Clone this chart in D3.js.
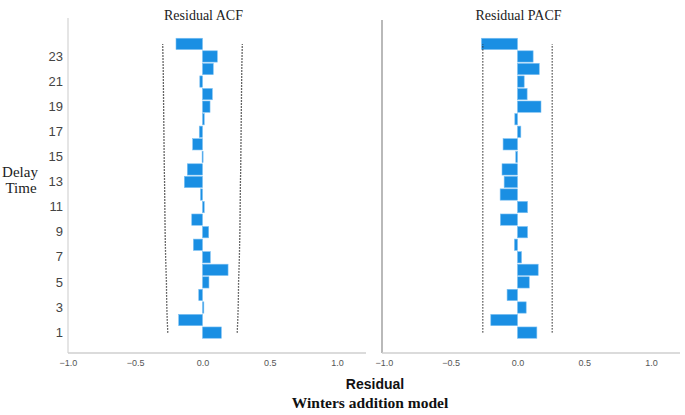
<!DOCTYPE html>
<html><head><meta charset="utf-8">
<script src="https://cdn.jsdelivr.net/npm/d3@7"></script>
<style>body{margin:0;background:#fff}svg{display:block}</style>
</head><body>
<svg id="c" width="685" height="415"></svg>
<script>
const lags = d3.range(1, 25);
const acf  = [0.14,-0.177,0.01,-0.028,0.048,0.19,0.058,-0.068,0.046,-0.08,0.013,-0.015,-0.135,-0.113,-0.003,-0.073,-0.024,0.013,0.056,0.073,-0.02,0.08,0.11,-0.197];
const pacf = [0.145,-0.2,0.065,-0.078,0.088,0.155,0.03,-0.023,0.075,-0.128,0.075,-0.13,-0.10,-0.116,-0.013,-0.108,0.025,-0.02,0.176,0.072,0.05,0.163,0.117,-0.27];
const acfLimit = [0.258,0.262,0.265,0.267,0.268,0.271,0.274,0.276,0.278,0.279,0.28,0.281,0.282,0.284,0.285,0.286,0.287,0.288,0.289,0.29,0.291,0.292,0.294,0.296];
const pacfLimit = 0.26;
const xTicks = [-1.0,-0.5,0.0,0.5,1.0];
const yTickLags = [1,3,5,7,9,11,13,15,17,19,21,23];

const svg = d3.select("#c");
const y = d3.scaleBand().domain(lags.slice().reverse()).range([38.25, 338.25]).paddingInner(0.1);
const yc = l => y(l) + y.bandwidth()/2;

const panels = [
  {title:"Residual ACF", vals:acf, limU:acfLimit, x:d3.scaleLinear().domain([-1,1]).range([68,337]), axisEnd:366, yAxisColor:"#d4d4d4", yTop:18},
  {title:"Residual PACF", vals:pacf, limU:lags.map(()=>pacfLimit), x:d3.scaleLinear().domain([-1,1]).range([384,651]), axisEnd:680, yAxisColor:"#8a8a8a", yTop:20, axisStart:382}
];

panels.forEach(p => {
  const g = svg.append("g");
  const x = p.x;
  const x0 = p.axisStart || x(-1);
  // y axis line
  g.append("line").attr("x1",x0).attr("x2",x0).attr("y1",p.yTop).attr("y2",353)
    .attr("stroke",p.yAxisColor).attr("stroke-width",1.2);
  // bottom axis
  const ax = d3.axisBottom(x).tickValues(xTicks).tickFormat(d3.format(".1f")).tickSize(0).tickPadding(7);
  const axg = g.append("g").attr("transform","translate(0,353)").call(ax);
  axg.select(".domain").remove();
  axg.append("line").attr("x1",x0).attr("x2",p.axisEnd).attr("stroke","#cfcfcf").attr("stroke-width",1.5);
  axg.selectAll("text").attr("font-family","Liberation Sans, Arial, sans-serif").attr("font-size",9).attr("fill","#555");
  // bars
  g.selectAll("rect.bar").data(lags).enter().append("rect")
    .attr("x", l => Math.min(x(0), x(p.vals[l-1])))
    .attr("width", l => Math.max(1, Math.abs(x(p.vals[l-1]) - x(0))))
    .attr("y", l => y(l)).attr("height", y.bandwidth())
    .attr("fill","#1a8fe3").attr("stroke","#7cc0f2").attr("stroke-width",0.6);
  // confidence limits
  const lineU = d3.line().x(l => x(p.limU[l-1])).y(l => yc(l));
  const lineL = d3.line().x(l => x(-p.limU[l-1])).y(l => yc(l));
  [lineU, lineL].forEach(ln => {
    g.append("path").attr("d", ln(lags)).attr("fill","none")
      .attr("stroke","#333").attr("stroke-width",1.3).attr("stroke-dasharray","1.4,1.6");
  });
  // title
  g.append("text").attr("x", x(0)+1).attr("y", 20).attr("text-anchor","middle")
    .attr("font-family","Liberation Serif, Times New Roman, serif").attr("font-size",14).attr("fill","#222")
    .text(p.title);
});

// y tick labels (left panel)
const yAxis = d3.axisLeft(y).tickValues(yTickLags).tickSize(0).tickPadding(3);
const yg = svg.append("g").attr("transform","translate(66,0)").call(yAxis);
yg.select(".domain").remove();
yg.selectAll("text").attr("font-family","Liberation Sans, Arial, sans-serif").attr("font-size",13).attr("fill","#444");

// y title
const yt = svg.append("text").attr("text-anchor","middle")
  .attr("font-family","Liberation Serif, Times New Roman, serif").attr("font-size",15).attr("fill","#222");
yt.append("tspan").attr("x",20).attr("y",177).text("Delay");
yt.append("tspan").attr("x",21).attr("y",193).text("Time");

svg.append("text").attr("x",375).attr("y",389).attr("text-anchor","middle")
  .attr("font-family","Liberation Sans, Arial, sans-serif").attr("font-weight","bold").attr("font-size",14).attr("fill","#111")
  .text("Residual");
svg.append("text").attr("x",370).attr("y",408).attr("text-anchor","middle")
  .attr("font-family","Liberation Serif, Times New Roman, serif").attr("font-weight","bold").attr("font-size",15.5).attr("fill","#111")
  .text("Winters addition model");
</script>
</body></html>
